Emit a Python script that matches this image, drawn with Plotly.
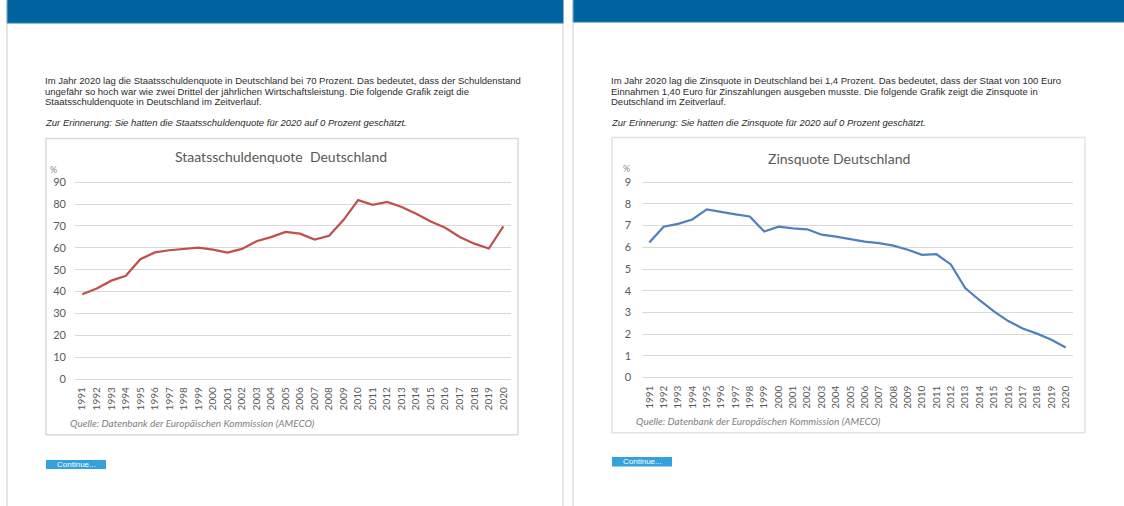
import plotly.graph_objects as go

W, H = 1124, 506

years = [str(y) for y in range(1991, 2021)]
debt_ratio = [38.8, 41.4, 45.0, 47.2, 54.8, 57.9, 58.9, 59.5, 60.1, 59.2, 57.8, 59.5,
              63.0, 64.9, 67.3, 66.5, 63.8, 65.5, 72.8, 81.8, 79.7, 81.0, 78.7, 75.6,
              72.0, 69.2, 65.0, 61.9, 59.7, 69.8]
interest_ratio = [6.22, 6.95, 7.08, 7.28, 7.75, 7.62, 7.52, 7.42, 6.73, 6.95, 6.87, 6.83,
                  6.58, 6.49, 6.38, 6.26, 6.19, 6.08, 5.89, 5.65, 5.68, 5.21, 4.12, 3.56,
                  3.05, 2.60, 2.26, 2.02, 1.74, 1.38]
debt_ticks = list(range(0, 100, 10))
interest_ticks = list(range(0, 10))

title_left = "Staatsschuldenquote  Deutschland"
title_right = "Zinsquote Deutschland"
source_text = "Quelle: Datenbank der Europäischen Kommission (AMECO)"
para_left = [
    "Im Jahr 2020 lag die Staatsschuldenquote in Deutschland bei 70 Prozent. Das bedeutet, dass der Schuldenstand",
    "ungefähr so hoch war wie zwei Drittel der jährlichen Wirtschaftsleistung. Die folgende Grafik zeigt die",
    "Staatsschuldenquote in Deutschland im Zeitverlauf.",
]
note_left = "Zur Erinnerung: Sie hatten die Staatsschuldenquote für 2020 auf 0 Prozent geschätzt."
para_right = [
    "Im Jahr 2020 lag die Zinsquote in Deutschland bei 1,4 Prozent. Das bedeutet, dass der Staat von 100 Euro",
    "Einnahmen 1,40 Euro für Zinszahlungen ausgeben musste. Die folgende Grafik zeigt die Zinsquote in",
    "Deutschland im Zeitverlauf.",
]
note_right = "Zur Erinnerung: Sie hatten die Zinsquote für 2020 auf 0 Prozent geschätzt."

# vertical placement correction observed for the rendering pipeline
V_OFF, V_SCALE = 5.7, 0.977


def fx(x):
    return x / W


def fy(y):
    return 1 - ((y - V_OFF) / V_SCALE) / H


CHART_FONT = "Lato"
TEXT_FONT = "Liberation Sans"
GRID = "#d9d9d9"
LABEL = "#595959"

fig = go.Figure()
fig.add_trace(go.Scatter(x=years, y=debt_ratio, mode="lines",
                         line=dict(color="#c0504d", width=2.25),
                         xaxis="x", yaxis="y", hoverinfo="x+y"))
fig.add_trace(go.Scatter(x=years, y=interest_ratio, mode="lines",
                         line=dict(color="#4f81bd", width=2.25),
                         xaxis="x2", yaxis="y2", hoverinfo="x+y"))

xcommon = dict(type="category", range=[-0.5, 29.5], tickangle=-90,
               tickmode="array", tickvals=years, ticktext=years,
               tickfont=dict(family=CHART_FONT, size=10, color=LABEL),
               showgrid=False, showline=False, zeroline=False, ticks="",
               ticklabelstandoff=4)
ycommon = dict(tickfont=dict(family=CHART_FONT, size=11, color=LABEL),
               showgrid=True, gridcolor=GRID, gridwidth=1,
               zeroline=False, showline=False, ticks="")

fig.update_layout(
    width=W, height=H,
    margin=dict(l=0, r=0, t=0, b=0),
    paper_bgcolor="white", plot_bgcolor="white",
    showlegend=False,
    xaxis=dict(domain=[fx(75), fx(510.6)], anchor="y", **xcommon),
    yaxis=dict(domain=[fy(379.4), fy(180.6)], anchor="x", range=[-0.5, 90.5],
               tickmode="array", tickvals=debt_ticks, ticklabelstandoff=8, **ycommon),
    xaxis2=dict(domain=[fx(642.1), fx(1072.9)], anchor="y2", **xcommon),
    yaxis2=dict(domain=[fy(377.8), fy(180.6)], anchor="x2", range=[-0.05, 9.05],
                tickmode="array", tickvals=interest_ticks, ticklabelstandoff=10, **ycommon),
)

shapes = []
for x in (7, 563, 573):
    shapes.append(dict(type="line", xref="paper", yref="paper", x0=fx(x), x1=fx(x),
                       y0=fy(2), y1=-0.05, line=dict(color="#d4d4d4", width=1.2)))
shapes.append(dict(type="rect", xref="paper", yref="paper", x0=fx(7), x1=fx(563.5),
                   y0=fy(23), y1=1.05, fillcolor="#00639e",
                   line=dict(color="#7fb3d5", width=1)))
shapes.append(dict(type="rect", xref="paper", yref="paper", x0=fx(573), x1=fx(1125),
                   y0=fy(22), y1=1.05, fillcolor="#00639e",
                   line=dict(color="#7fb3d5", width=1)))
shapes.append(dict(type="rect", xref="paper", yref="paper", x0=fx(46), x1=fx(518),
                   y0=fy(434), y1=fy(138), fillcolor="rgba(0,0,0,0)", layer="below",
                   line=dict(color="#d9d9d9", width=1.5)))
shapes.append(dict(type="rect", xref="paper", yref="paper", x0=fx(612), x1=fx(1085),
                   y0=fy(432), y1=fy(137), fillcolor="rgba(0,0,0,0)", layer="below",
                   line=dict(color="#e3e3e3", width=1.5)))
shapes.append(dict(type="rect", xref="paper", yref="paper", x0=fx(46), x1=fx(106),
                   y0=fy(468), y1=fy(459), fillcolor="#35a1dc", line=dict(width=0)))
shapes.append(dict(type="rect", xref="paper", yref="paper", x0=fx(612), x1=fx(672),
                   y0=fy(465.5), y1=fy(456), fillcolor="#35a1dc", line=dict(width=0)))
fig.update_layout(shapes=shapes)

ann = []


def text(x, y, s, size, color, family, xanchor="left", italic=False):
    ann.append(dict(x=fx(x), y=fy(y), xref="paper", yref="paper", text=s,
                    showarrow=False, xanchor=xanchor, yanchor="middle",
                    font=dict(size=size, color=color, family=family,
                              style="italic" if italic else "normal")))


for i, line in enumerate(para_left):
    text(43, 80.5 + i * 10.4, line, 9.5, "#2b2b2b", TEXT_FONT)
text(43, 122, note_left, 9.5, "#2b2b2b", TEXT_FONT, italic=True)
for i, line in enumerate(para_right):
    text(609, 80.5 + i * 10.4, line, 9.5, "#2b2b2b", TEXT_FONT)
text(609, 122, note_right, 9.5, "#2b2b2b", TEXT_FONT, italic=True)

text(281, 156, title_left, 14, LABEL, CHART_FONT, xanchor="center")
text(839, 158, title_right, 14, LABEL, CHART_FONT, xanchor="center")
text(48, 169, "%", 9, "#8c8c8c", CHART_FONT)
text(621, 168, "%", 9, "#8c8c8c", CHART_FONT)
text(68, 422, source_text, 10, "#7f7f7f", CHART_FONT, italic=True)
text(634, 420, source_text, 10, "#7f7f7f", CHART_FONT, italic=True)
text(76, 463.5, "Continue...", 8, "white", TEXT_FONT, xanchor="center")
text(642, 461, "Continue...", 8, "white", TEXT_FONT, xanchor="center")
fig.update_layout(annotations=ann)

fig.write_html(
    "out.html", config={"displayModeBar": False},
    post_script=("document.documentElement.style.margin='0';"
                 "document.body.style.margin='0';"
                 "document.body.style.overflow='hidden';"))
